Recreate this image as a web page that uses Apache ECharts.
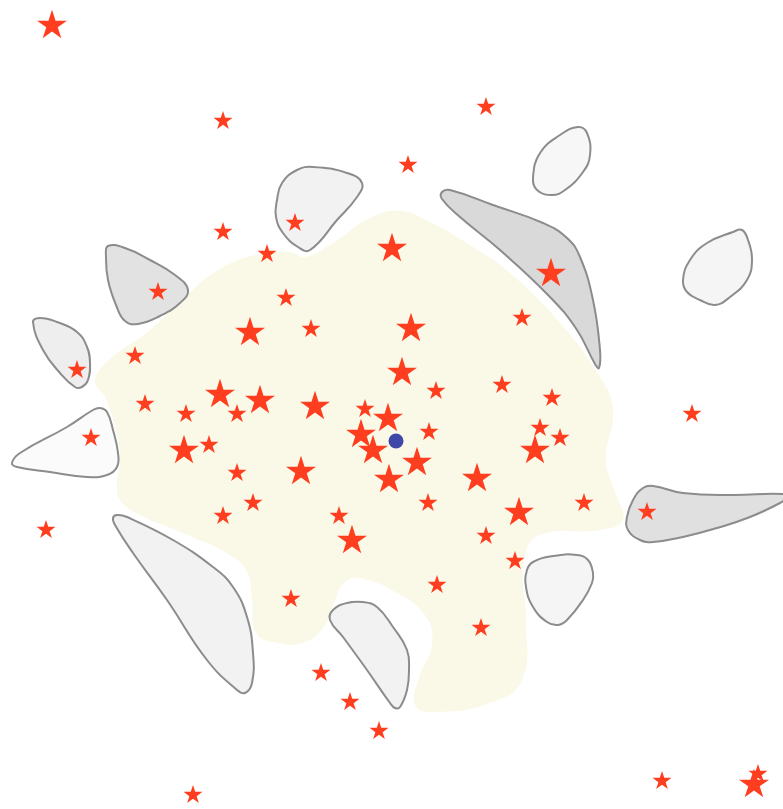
<!DOCTYPE html>
<html>
<head>
<meta charset="utf-8">
<script src="https://cdn.jsdelivr.net/npm/echarts@6/dist/echarts.min.js"></script>
<style>html,body{margin:0;padding:0;background:#fff}#main{width:783px;height:809px}</style>
</head>
<body>
<div id="main"></div>
<script>
// Region outlines (data coordinates)
var landArea = [[400,211],[430,222],[470,245],[510,273],[560,323],[600,377],[613,410],[606,460],[616,495],[623,520],[600,530],[540,535],[524,560],[526,620],[522,680],[490,703],[433,712],[415,705],[420,675],[432,645],[425,615],[395,592],[360,578],[345,582],[335,600],[325,625],[305,642],[278,643],[256,633],[252,600],[247,572],[230,555],[183,533],[140,515],[120,500],[117,483],[120,460],[115,427],[105,397],[95,382],[107,362],[150,330],[180,302],[215,272],[255,255],[290,252],[305,257],[333,243],[370,218]];
var lakeA = [[108,246],[125,248],[150,260],[175,275],[188,290],[180,303],[160,316],[138,324],[125,321],[116,305],[108,280],[106,257]];
var lakeB = [[277,200],[282,183],[297,170],[313,167],[347,173],[362,183],[357,197],[337,220],[310,250],[298,247],[283,233],[276,217]];
var lakeC = [[442,192],[450,190],[493,205],[543,223],[567,238],[580,257],[593,300],[600,350],[599,368],[595,364],[577,330],[550,297],[500,250],[460,217],[442,199]];
var lakeD = [[533,178],[540,153],[560,135],[578,127],[587,133],[590,155],[583,172],[565,190],[552,195],[537,190]];
var lakeE = [[683,280],[690,260],[707,243],[733,232],[742,230],[748,240],[752,260],[747,280],[730,297],[715,305],[700,300],[687,292]];
var lakeF = [[627,517],[633,500],[643,488],[653,486],[683,493],[733,495],[783,494],[786,498],[780,503],[750,517],[717,528],[683,537],[653,542],[640,540],[628,530]];
var lakeG = [[33,322],[40,318],[57,322],[77,332],[87,347],[90,363],[88,380],[82,387],[75,387],[60,373],[43,350]];
var lakeH = [[12,463],[20,453],[67,427],[93,410],[100,408],[107,412],[113,430],[118,453],[117,467],[107,475],[87,477],[50,472],[17,467]];
var lakeI = [[113,518],[117,515],[127,517],[173,540],[213,567],[233,587],[247,617],[253,653],[252,683],[245,693],[237,690],[207,660],[167,600],[133,553],[115,525]];
var lakeJ = [[330,620],[333,610],[347,603],[363,602],[377,607],[393,627],[407,650],[409,670],[407,690],[400,707],[395,708],[390,703],[367,670],[343,637]];
var lakeK = [[527,570],[533,562],[553,556],[577,555],[588,560],[593,573],[592,583],[583,600],[567,620],[558,625],[547,622],[533,607],[526,587]];

var bigStars = [[52,24],[392,247],[551,272],[250,331],[411,327],[402,371],[220,393],[260,399],[315,405],[388,417],[361,433],[373,449],[417,461],[389,478],[301,470],[535,449],[477,477],[519,511],[352,539],[184,449],[754,783]];
var smallStars = [[223,120],[486,106],[408,164],[295,222],[223,231],[267,253],[158,291],[286,297],[311,328],[522,317],[135,355],[77,369],[436,390],[502,384],[552,397],[145,403],[186,413],[237,413],[365,408],[429,431],[540,427],[560,437],[428,502],[584,502],[339,515],[486,535],[515,560],[437,584],[291,598],[481,627],[321,672],[350,701],[379,730],[193,794],[662,780],[758,773],[692,413],[647,511],[91,437],[46,529],[209,444],[237,472],[253,502],[223,515]];
var centerPoint = [[396,441]];

var shapes = [landArea, lakeA, lakeB, lakeC, lakeD, lakeE, lakeF, lakeG, lakeH, lakeI, lakeJ, lakeK];
var fills = ['#faf9e7', '#e2e2e2', '#f2f2f2', '#d9d9d9', '#f7f7f7', '#f5f5f5', '#e0e0e0', '#eeeeee', '#fbfbfb', '#f2f2f2', '#f2f2f2', '#f5f5f5'];

// five-pointed star symbol path
function starPath() {
  var d = '';
  for (var k = 0; k < 10; k++) {
    var a = (-90 + k * 36) * Math.PI / 180;
    var r = k % 2 === 0 ? 100 : 38.2;
    var x = (r * Math.cos(a)).toFixed(2), y = (r * Math.sin(a)).toFixed(2);
    d += (k === 0 ? 'M' : 'L') + x + ',' + y;
  }
  return 'path://' + d + 'Z';
}
var STAR = starPath();

var chart = echarts.init(document.getElementById('main'), null, {renderer: 'canvas'});
chart.setOption({
  animation: false,
  backgroundColor: '#fff',
  grid: {left: 0, right: 0, top: 0, bottom: 0},
  xAxis: {type: 'value', min: 0, max: 783, show: false},
  yAxis: {type: 'value', min: 0, max: 809, inverse: true, show: false},
  series: [
    {
      type: 'custom',
      coordinateSystem: 'cartesian2d',
      clip: false,
      silent: true,
      data: shapes.map(function (s, i) { return [s[0][0], s[0][1], i]; }),
      renderItem: function (params, api) {
        var i = params.dataIndex;
        var pts = shapes[i].map(function (p) { return api.coord(p); });
        return {
          type: 'polygon',
          shape: {points: pts, smooth: 0.45},
          style: i === 0 ? {fill: fills[i]} : {fill: fills[i], stroke: '#8c8c8c', lineWidth: 2}
        };
      }
    },
    {
      type: 'scatter', symbol: STAR, symbolKeepAspect: true, symbolSize: 19, data: smallStars,
      itemStyle: {color: '#ff3d1f', opacity: 1}, z: 3
    },
    {
      type: 'scatter', symbol: STAR, symbolKeepAspect: true, symbolSize: 30, data: bigStars,
      itemStyle: {color: '#ff3d1f', opacity: 1}, z: 3
    },
    {
      type: 'scatter', symbol: 'circle', symbolSize: 15, data: centerPoint,
      itemStyle: {color: '#3f48a8', opacity: 1}, z: 4
    }
  ]
});
</script>
</body>
</html>
